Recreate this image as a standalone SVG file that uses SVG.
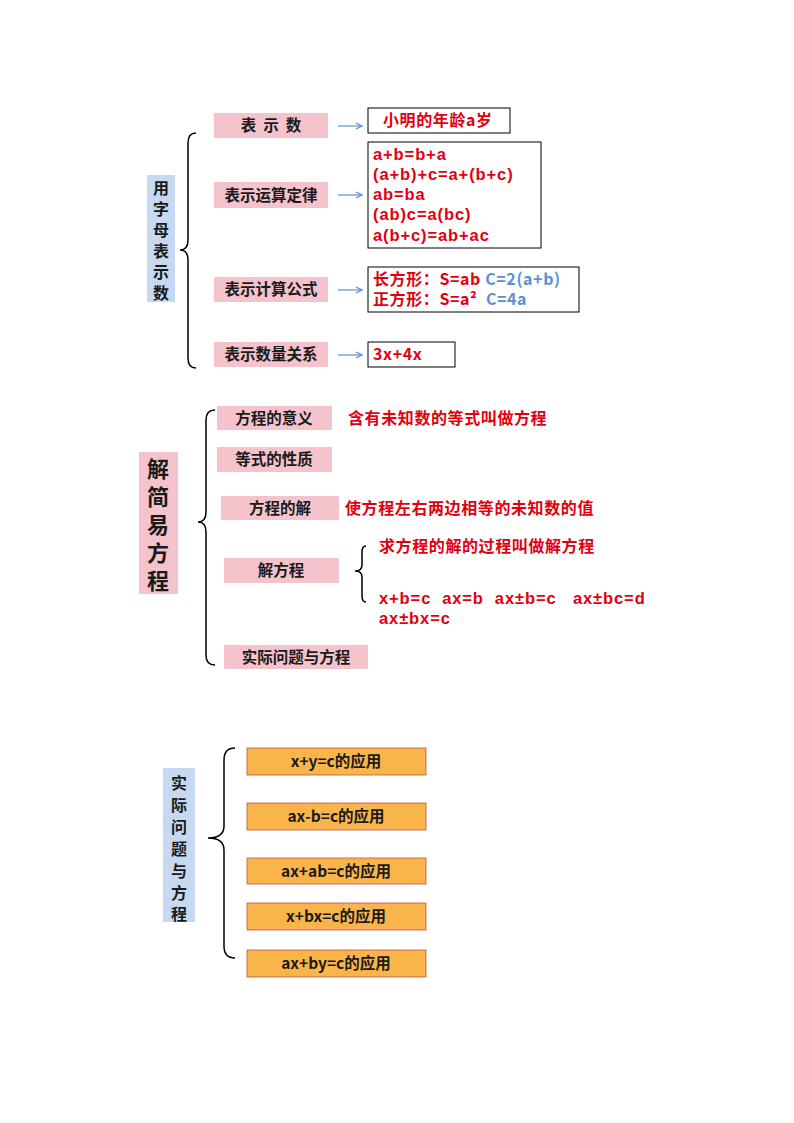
<svg xmlns="http://www.w3.org/2000/svg" width="794" height="1123" viewBox="0 0 794 1123">
<defs>
<marker id="ah" markerWidth="8" markerHeight="8" refX="7" refY="4" orient="auto" markerUnits="userSpaceOnUse"><path d="M1,1 L7,4 L1,7" fill="none" stroke="#5b8fd6" stroke-width="1.2"/></marker>
</defs>
<style>
text{font-family:"Noto Sans CJK SC","Liberation Sans",sans-serif;font-weight:bold}
.pk{fill:#f4c3cc}
.bl{fill:#c6d9f1}
.or{fill:#f9b54a;stroke:#c0504d;stroke-width:0.8}
.bx{fill:#fff;stroke:#000;stroke-width:1}
.t{font-size:15.5px;fill:#1a1a1a;text-anchor:middle}
.r{font-size:16px;fill:#e0000f;letter-spacing:0.6px}
.lt{font-family:"Liberation Sans",sans-serif;font-size:16.5px;letter-spacing:0.9px}
.b{fill:#5b8fd6}
.br{fill:none;stroke:#000;stroke-width:1.5}
.ar{stroke:#5b8fd6;stroke-width:1.2;fill:none;marker-end:url(#ah)}
</style>
<g id="connectors">
<path class="br" d="M196,133 Q188,133 188,143 L188,240 Q188,250 180,250 Q188,250 188,260 L188,358 Q188,368 196,368"/>
<line class="ar" x1="338" y1="126" x2="362" y2="126"/>
<line class="ar" x1="338" y1="195" x2="362" y2="195"/>
<line class="ar" x1="338" y1="290" x2="362" y2="290"/>
<line class="ar" x1="338" y1="355" x2="362" y2="355"/>
<path class="br" d="M215,410 Q206,410 206,420 L206,512 Q206,522 198,522 Q206,522 206,532 L206,655 Q206,665 215,665"/>
<path class="br" d="M366,546 Q362,546 362,552 L362,565 Q362,571 355,571 Q362,571 362,577 L362,596 Q362,602 366,602"/>
<path class="br" d="M235,748 Q224,748 224,760 L224,826 Q224,838 208,838 Q224,838 224,850 L224,946 Q224,958 235,958"/>
</g>
<g id="n1"><rect class="bl" x="147" y="175" width="28" height="127"/>
<text style="font-size:16px;fill:#1a1a1a" text-anchor="middle"><tspan x="161" y="194">用</tspan><tspan x="161" y="215">字</tspan><tspan x="161" y="236">母</tspan><tspan x="161" y="257">表</tspan><tspan x="161" y="278">示</tspan><tspan x="161" y="299">数</tspan></text></g>
<g id="n2"><rect class="pk" x="214" y="113" width="114" height="25"/><text class="t" x="271" y="131" xml:space="preserve">表  示  数</text></g>
<g id="n3"><rect class="pk" x="214" y="182" width="114" height="26"/><text class="t" x="271" y="201">表示运算定律</text></g>
<g id="n4"><rect class="pk" x="214" y="277" width="114" height="25"/><text class="t" x="271" y="295">表示计算公式</text></g>
<g id="n5"><rect class="pk" x="214" y="342" width="114" height="25"/><text class="t" x="271" y="360">表示数量关系</text></g>
<g id="n6"><rect class="bx" x="368" y="108" width="142" height="25"/><text class="r" x="383" y="126">小明的年龄a岁</text></g>
<g id="n7"><rect class="bx" x="368" y="142" width="173" height="106"/>
<text class="r lt"><tspan x="373" y="160">a+b=b+a</tspan><tspan x="373" y="180">(a+b)+c=a+(b+c)</tspan><tspan x="373" y="200">ab=ba</tspan><tspan x="373" y="220">(ab)c=a(bc)</tspan><tspan x="373" y="241">a(b+c)=ab+ac</tspan></text></g>
<g id="n8"><rect class="bx" x="368" y="267" width="211" height="45"/>
<text class="r" x="373" y="285">长方形：S=ab <tspan class="b">C=2(a+b)</tspan></text>
<text class="r" x="373" y="305" xml:space="preserve">正方形：S=a²  <tspan class="b">C=4a</tspan></text></g>
<g id="n9"><rect class="bx" x="368" y="342" width="87" height="25"/><text class="r" x="373" y="360">3x+4x</text></g>
<g id="n10"><rect class="pk" x="139" y="452" width="39" height="142"/>
<text style="font-size:22px;fill:#1a1a1a" text-anchor="middle"><tspan x="158" y="477">解</tspan><tspan x="158" y="505">简</tspan><tspan x="158" y="533">易</tspan><tspan x="158" y="561">方</tspan><tspan x="158" y="589">程</tspan></text></g>
<g id="n11"><rect class="pk" x="217" y="406" width="115" height="24"/><text class="t" x="274" y="424">方程的意义</text></g>
<text class="r" x="348" y="424">含有未知数的等式叫做方程</text>
<g id="n12"><rect class="pk" x="217" y="447" width="115" height="25"/><text class="t" x="274" y="465">等式的性质</text></g>
<g id="n13"><rect class="pk" x="221" y="496" width="118" height="24"/><text class="t" x="280" y="514">方程的解</text></g>
<text class="r" x="345" y="514">使方程左右两边相等的未知数的值</text>
<g id="n14"><rect class="pk" x="224" y="558" width="115" height="25"/><text class="t" x="281" y="576">解方程</text></g>
<text class="r" x="379" y="552">求方程的解的过程叫做解方程</text>
<text class="r lt" x="379" y="604" xml:space="preserve">x+b=c  ax=b  ax±b=c   ax±bc=d</text>
<text class="r lt" x="379" y="624">ax±bx=c</text>
<g id="n15"><rect class="pk" x="224" y="645" width="144" height="24"/><text class="t" x="296" y="663">实际问题与方程</text></g>
<g id="n16"><rect class="bl" x="163" y="768" width="32" height="154"/>
<text style="font-size:16px;fill:#1a1a1a" text-anchor="middle"><tspan x="179" y="789">实</tspan><tspan x="179" y="811">际</tspan><tspan x="179" y="833">问</tspan><tspan x="179" y="855">题</tspan><tspan x="179" y="877">与</tspan><tspan x="179" y="899">方</tspan><tspan x="179" y="920">程</tspan></text></g>
<g id="n17"><rect class="or" x="247" y="748" width="179" height="27"/><text class="t" x="336" y="767">x+y=c的应用</text></g>
<g id="n18"><rect class="or" x="247" y="803" width="179" height="27"/><text class="t" x="336" y="822">ax-b=c的应用</text></g>
<g id="n19"><rect class="or" x="247" y="858" width="179" height="26"/><text class="t" x="336" y="877">ax+ab=c的应用</text></g>
<g id="n20"><rect class="or" x="247" y="903" width="179" height="27"/><text class="t" x="336" y="922">x+bx=c的应用</text></g>
<g id="n21"><rect class="or" x="247" y="950" width="179" height="27"/><text class="t" x="336" y="969">ax+by=c的应用</text></g>
</svg>
